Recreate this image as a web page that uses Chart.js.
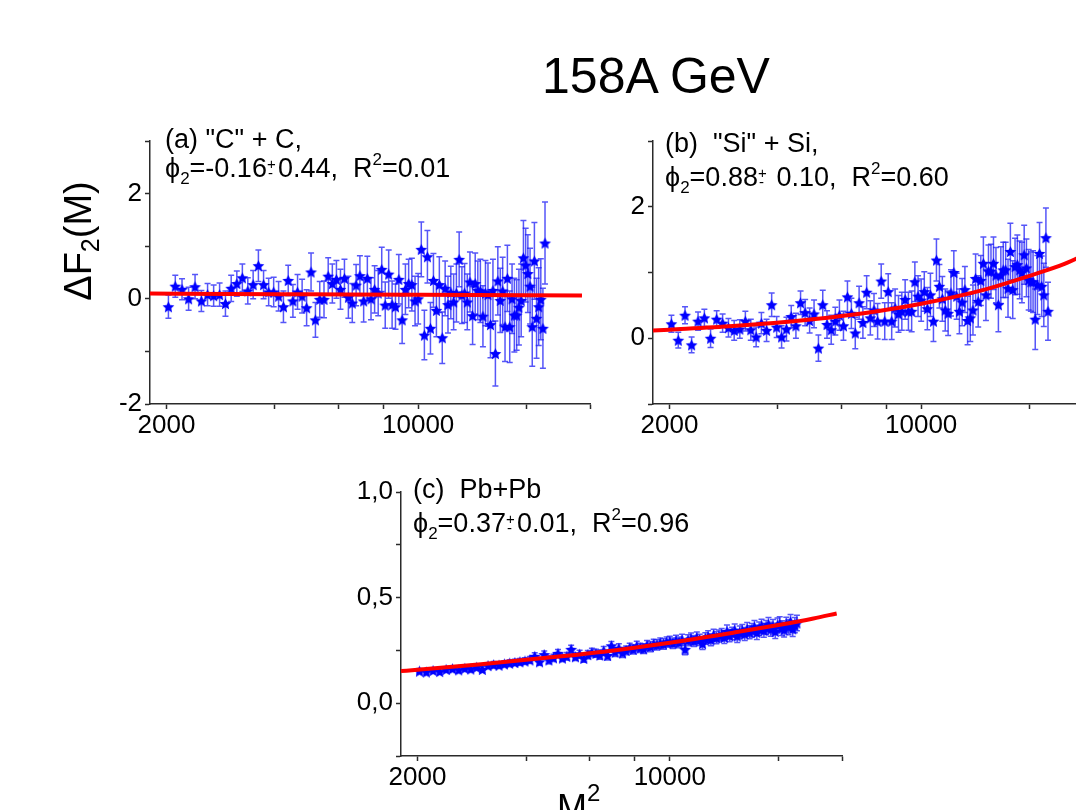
<!DOCTYPE html>
<html>
<head>
<meta charset="utf-8">
<title>158A GeV</title>
<script src="https://cdn.jsdelivr.net/npm/chart.js@4.4.1/dist/chart.umd.min.js"></script>
<style>
html,body{margin:0;padding:0;background:#fff;width:1076px;height:810px;overflow:hidden;position:relative;}
canvas.panel{position:absolute;left:0;top:0;}
.txt{position:absolute;font-family:"Liberation Sans",Arial,"DejaVu Sans",sans-serif;color:#000;white-space:pre;font-size:27px;line-height:27px;}
.sub{position:relative;top:7px;font-size:17px;}
.sup{position:relative;top:-12px;font-size:17px;}
.pm{display:inline-block;position:relative;width:11px;height:0;}
.pm .p{position:absolute;left:0;top:-21px;font-size:15px;line-height:15px;}
.pm .m{position:absolute;left:1px;top:-12px;font-size:15px;line-height:15px;}
</style>
</head>
<body>
<canvas id="panelA" class="panel" width="1076" height="810"></canvas>
<canvas id="panelB" class="panel" width="1200" height="810"></canvas>
<canvas id="panelC" class="panel" width="1076" height="810"></canvas>

<div class="txt" style="left:656px;top:51px;font-size:50px;line-height:50px;transform:translateX(-50%);">158A GeV</div>
<div class="txt" style="left:-20px;top:220px;width:200px;text-align:center;font-size:38px;line-height:38px;transform:rotate(-90deg);">ΔF<span style="position:relative;top:8px;font-size:25px;">2</span>(M)</div>
<div class="txt" style="left:557px;top:790px;font-size:36px;line-height:36px;">M<span style="position:relative;top:-19px;font-size:24px;">2</span></div>

<div class="txt" style="left:165px;top:126px;">(a) "C" + C,</div>
<div class="txt" style="left:165px;top:155px;">ϕ<span class="sub">2</span>=-0.16<span class="pm"><span class="p">+</span><span class="m">-</span></span>0.44,  R<span class="sup">2</span>=0.01</div>

<div class="txt" style="left:665px;top:130px;">(b)  "Si" + Si,</div>
<div class="txt" style="left:665px;top:164px;">ϕ<span class="sub">2</span>=0.88<span class="pm"><span class="p">+</span><span class="m">-</span></span> 0.10,  R<span class="sup">2</span>=0.60</div>

<div class="txt" style="left:413px;top:476px;">(c)  Pb+Pb</div>
<div class="txt" style="left:413px;top:510px;">ϕ<span class="sub">2</span>=0.37<span class="pm"><span class="p">+</span><span class="m">-</span></span>0.01,  R<span class="sup">2</span>=0.96</div>

<script>
// ---------------- data ----------------
const massSquared = [2025,2116,2209,2304,2401,2500,2601,2704,2809,2916,
  3025,3136,3249,3364,3481,3600,3721,3844,3969,4096,
  4225,4356,4489,4624,4761,4900,5041,5184,5329,5476,
  5625,5776,5929,6084,6241,6400,6561,6724,6889,7056,
  7225,7396,7569,7744,7921,8100,8281,8464,8649,8836,
  9025,9216,9409,9604,9801,10000,10201,10404,10609,10816,
  11025,11236,11449,11664,11881,12100,12321,12544,12769,12996,
  13225,13456,13689,13924,14161,14400,14641,14884,15129,15376,
  15625,15876,16129,16384,16641,16900,17161,17424,17689,17956,
  18225,18496,18769,19044,19321,19600,19881,20164,20449,20736,
  21025,21316,21609,21904,22201,22500];

// (a) "C" + C
const carbonValues = [-0.15,0.24,0.18,0.0,0.23,-0.04,0.08,0.06,0.08,-0.09,
  0.2,0.29,0.4,0.15,0.27,0.63,0.27,0.13,0.13,0.05,
  -0.15,0.35,-0.04,0.13,0.05,-0.17,0.51,-0.4,-0.01,-0.01,
  0.43,0.29,0.37,0.18,0.39,0.03,-0.08,0.26,0.44,-0.04,
  0.39,0.0,0.18,0.11,0.56,-0.12,0.47,-0.11,-0.15,0.37,
  -0.4,0.18,0.29,0.27,-0.04,0.0,0.94,-0.69,0.8,-0.56,
  0.35,-0.22,0.27,-0.74,0.2,-0.11,0.12,-0.06,0.11,0.75,
  0.07,0.11,-0.06,0.32,-0.32,0.29,0.16,0.15,-0.33,0.11,
  0.08,-0.49,0.16,-1.04,0.34,-0.03,0.15,-0.53,0.39,-0.53,
  0.0,-0.31,-0.31,-0.16,-0.03,0.78,0.64,0.48,0.24,-0.53,
  0.72,-0.37,-0.15,-0.01,-0.56,1.06];
const carbonErrors = [0.22,0.21,0.2,0.22,0.23,0.2,0.21,0.2,0.22,0.24,
  0.25,0.24,0.26,0.25,0.27,0.3,0.27,0.26,0.28,0.28,
  0.3,0.29,0.31,0.33,0.32,0.34,0.36,0.33,0.34,0.35,
  0.35,0.37,0.36,0.38,0.36,0.4,0.37,0.39,0.38,0.4,
  0.42,0.4,0.45,0.43,0.42,0.44,0.46,0.45,0.43,0.47,
  0.45,0.48,0.46,0.5,0.47,0.48,0.52,0.47,0.5,0.49,
  0.51,0.5,0.53,0.49,0.52,0.54,0.5,0.53,0.55,0.52,
  0.54,0.56,0.53,0.57,0.55,0.58,0.56,0.6,0.58,0.62,
  0.6,0.63,0.59,0.62,0.65,0.61,0.64,0.66,0.63,0.68,
  0.66,0.7,0.67,0.72,0.69,0.71,0.7,0.74,0.72,0.75,
  0.73,0.76,0.74,0.77,0.76,0.78];
const carbonFitX = [1800,3000,5000,10000,20000,28500];
const carbonFitY = [0.100,0.092,0.085,0.076,0.068,0.065];

// (b) "Si" + Si
const siliconValues = [0.22,-0.03,0.35,-0.1,0.26,0.31,0.0,0.29,0.23,0.16,
  0.12,0.14,0.26,0.13,0.02,0.23,0.12,0.51,0.17,0.02,
  0.14,0.33,0.19,0.54,0.39,0.27,0.37,-0.15,0.51,0.21,
  0.13,0.26,0.35,0.19,0.63,0.38,0.08,0.54,0.24,0.7,
  0.31,0.43,0.26,0.87,0.26,0.71,0.26,0.46,0.37,0.41,
  0.59,0.41,0.41,0.86,0.64,0.58,0.71,0.45,0.66,0.26,
  1.19,0.79,0.6,0.43,0.38,0.69,1.0,0.64,0.41,0.55,
  0.74,0.27,0.31,0.43,0.91,0.56,0.88,1.14,0.66,1.02,
  1.02,1.14,0.96,0.51,0.96,1.04,1.04,0.76,1.32,0.74,
  1.09,1.12,1.04,1.0,1.27,1.07,0.89,0.86,0.86,0.29,
  0.81,1.29,0.79,0.66,1.53,0.41];
const siliconErrors = [0.13,0.12,0.13,0.12,0.14,0.13,0.14,0.13,0.14,0.14,
  0.15,0.14,0.15,0.16,0.15,0.16,0.17,0.18,0.16,0.17,
  0.18,0.17,0.19,0.18,0.2,0.19,0.21,0.2,0.22,0.21,
  0.22,0.21,0.23,0.22,0.24,0.23,0.24,0.25,0.24,0.25,
  0.26,0.25,0.27,0.26,0.28,0.27,0.28,0.29,0.28,0.29,
  0.3,0.29,0.31,0.3,0.31,0.32,0.3,0.32,0.33,0.31,
  0.32,0.33,0.34,0.32,0.34,0.35,0.33,0.35,0.34,0.36,
  0.35,0.37,0.36,0.38,0.37,0.39,0.38,0.4,0.39,0.4,
  0.41,0.4,0.42,0.41,0.43,0.42,0.42,0.44,0.43,0.44,
  0.43,0.45,0.44,0.46,0.45,0.44,0.46,0.45,0.47,0.46,
  0.45,0.47,0.46,0.48,0.45,0.44];
const siliconFitX = [1800,2000,3000,5000,7000,10000,15000,20000,25000,30000];
const siliconFitY = [0.117,0.13,0.185,0.29,0.385,0.525,0.74,0.95,1.13,1.33];

// (c) Pb + Pb
const leadValues = [0.152,0.148,0.155,0.150,0.160,0.163,0.158,0.165,0.162,0.170,
  0.160,0.178,0.182,0.180,0.186,0.190,0.193,0.196,0.200,0.205,
  0.222,0.196,0.230,0.205,0.215,0.236,0.214,0.222,0.255,0.220,
  0.232,0.212,0.230,0.240,0.236,0.228,0.248,0.226,0.272,0.242,
  0.260,0.238,0.250,0.262,0.255,0.270,0.262,0.258,0.274,0.268,
  0.280,0.276,0.285,0.280,0.290,0.292,0.284,0.296,0.288,0.300,
  0.255,0.298,0.305,0.294,0.310,0.300,0.282,0.306,0.315,0.300,
  0.322,0.310,0.318,0.325,0.312,0.340,0.320,0.330,0.345,0.318,
  0.335,0.342,0.328,0.350,0.336,0.345,0.360,0.335,0.352,0.365,
  0.345,0.358,0.372,0.350,0.362,0.340,0.368,0.375,0.355,0.348,
  0.372,0.360,0.385,0.352,0.370,0.380];
const leadErrors = [0.012,0.013,0.012,0.013,0.012,0.013,0.014,0.013,0.014,0.013,
  0.014,0.014,0.015,0.014,0.015,0.016,0.015,0.016,0.015,0.016,
  0.017,0.016,0.017,0.018,0.017,0.018,0.017,0.018,0.019,0.018,
  0.019,0.018,0.019,0.02,0.019,0.02,0.02,0.021,0.02,0.021,
  0.021,0.022,0.021,0.022,0.022,0.023,0.022,0.023,0.023,0.024,
  0.023,0.024,0.024,0.025,0.024,0.025,0.025,0.026,0.025,0.026,
  0.026,0.026,0.027,0.026,0.027,0.027,0.028,0.027,0.028,0.028,
  0.028,0.029,0.028,0.029,0.029,0.03,0.029,0.03,0.03,0.031,
  0.03,0.031,0.031,0.032,0.031,0.032,0.032,0.033,0.032,0.033,
  0.033,0.033,0.034,0.033,0.034,0.034,0.035,0.034,0.035,0.035,
  0.035,0.036,0.035,0.036,0.036,0.037];
const leadFitX = [1800,2000,3000,5000,7000,10000,15000,20000,25000,29000];
const leadFitY = [0.152,0.158,0.184,0.222,0.250,0.286,0.334,0.370,0.401,0.425];

// axes
const xRange = [1800, 30000];
const xTickValues = [2000,4000,6000,8000,10000,20000,30000];
const xTickLabels = ['2000','','','','10000','',''];
const carbonYRange = [-2, 3];
const carbonYTicks = [-2,-1,0,1,2,3];
const carbonYLabels = ['-2','','0','','2',''];
const siliconYRange = [-1, 3];
const siliconYTicks = [-1,0,1,2,3];
const siliconYLabels = ['','0','','2',''];
const leadYRange = [-0.25, 1.0];
const leadYTicks = [-0.25,0,0.25,0.5,0.75,1.0];
const leadYLabels = ['','0,0','','0,5','','1,0'];

// ---------------- drawing ----------------
const FONT_FAMILY = '"Liberation Sans", Arial, sans-serif';
const AXIS_COLOR = '#2a2a2a';

function starImage(r, color) {
  const c = document.createElement('canvas');
  const s = Math.ceil(r * 2 + 2);
  c.width = s; c.height = s;
  const g = c.getContext('2d');
  g.translate(s / 2, s / 2 + r * 0.1);
  g.beginPath();
  for (let i = 0; i < 10; i++) {
    const rad = i % 2 ? r * 0.48 : r;
    const a = -Math.PI / 2 + i * Math.PI / 5;
    g.lineTo(rad * Math.cos(a), rad * Math.sin(a));
  }
  g.closePath();
  g.fillStyle = color;
  g.fill();
  return c;
}
const STAR = starImage(6.2, '#0000ff');

const errorBarPlugin = {
  id: 'errorBars',
  beforeDatasetsDraw(chart) {
    const ctx = chart.ctx, xs = chart.scales.x, ys = chart.scales.y;
    chart.data.datasets.forEach(ds => {
      if (!ds.errors) return;
      ctx.save();
      ctx.strokeStyle = 'rgba(30,30,245,0.75)';
      ctx.lineWidth = 1.5;
      ds.data.forEach((p, j) => {
        const e = ds.errors[j];
        const px = xs.getPixelForValue(p.x);
        const yTop = ys.getPixelForValue(p.y + e);
        const yBot = ys.getPixelForValue(p.y - e);
        ctx.beginPath();
        ctx.moveTo(px, yTop); ctx.lineTo(px, yBot);
        ctx.moveTo(px - 3, yTop); ctx.lineTo(px + 3, yTop);
        ctx.moveTo(px - 3, yBot); ctx.lineTo(px + 3, yBot);
        ctx.stroke();
      });
      ctx.restore();
    });
  }
};

function makePanel(canvasId, area, yRange, yTicks, yLabels, yVals, yErrs, fitX, fitY) {
  const canvas = document.getElementById(canvasId);
  const W = canvas.width, H = canvas.height;
  const YW = 60, XH = 50;
  const points = massSquared.map((x, i) => ({x: x, y: yVals[i]}));
  const fit = fitX.map((x, i) => ({x: x, y: fitY[i]}));
  return new Chart(canvas, {
    type: 'scatter',
    data: { datasets: [
      { type: 'line', data: fit, borderColor: '#ff0000', borderWidth: 4, pointRadius: 0,
        fill: false, cubicInterpolationMode: 'monotone', order: 0 },
      { type: 'scatter', data: points, errors: yErrs, pointStyle: STAR, pointRadius: 5, order: 1 }
    ]},
    options: {
      responsive: false, animation: false, events: [],
      layout: { padding: { left: area.left - YW, right: W - area.right, top: area.top, bottom: H - area.bottom - XH } },
      plugins: { legend: {display: false}, tooltip: {enabled: false}, title: {display: false} },
      scales: {
        x: {
          type: 'logarithmic', min: xRange[0], max: xRange[1],
          afterBuildTicks: s => { s.ticks = xTickValues.map(v => ({value: v})); },
          afterFit: s => { s.height = XH; },
          ticks: { autoSkip: false, maxRotation: 0, minRotation: 0, padding: 1, color: '#000',
                   font: {family: FONT_FAMILY, size: 26},
                   callback: v => { const i = xTickValues.indexOf(v); return i >= 0 ? xTickLabels[i] : ''; } },
          grid: { display: true, drawOnChartArea: false, drawTicks: true, tickLength: 5, tickColor: AXIS_COLOR, tickWidth: 1.5 },
          border: { display: true, color: AXIS_COLOR, width: 1.5 }
        },
        y: {
          type: 'linear', min: yRange[0], max: yRange[1],
          afterBuildTicks: s => { s.ticks = yTicks.map(v => ({value: v})); },
          afterFit: s => { s.width = YW; },
          ticks: { autoSkip: false, padding: 3, color: '#000',
                   font: {family: FONT_FAMILY, size: 26},
                   callback: v => { const i = yTicks.indexOf(v); return i >= 0 ? yLabels[i] : ''; } },
          grid: { display: true, drawOnChartArea: false, drawTicks: true, tickLength: 5, tickColor: AXIS_COLOR, tickWidth: 1.5 },
          border: { display: true, color: AXIS_COLOR, width: 1.5 }
        }
      }
    },
    plugins: [errorBarPlugin]
  });
}

makePanel('panelA', {left: 150, right: 590, top: 141, bottom: 404},
  carbonYRange, carbonYTicks, carbonYLabels, carbonValues, carbonErrors, carbonFitX, carbonFitY);
makePanel('panelB', {left: 653, right: 1093, top: 141, bottom: 404},
  siliconYRange, siliconYTicks, siliconYLabels, siliconValues, siliconErrors, siliconFitX, siliconFitY);
makePanel('panelC', {left: 401, right: 842, top: 492, bottom: 756},
  leadYRange, leadYTicks, leadYLabels, leadValues, leadErrors, leadFitX, leadFitY);
</script>
</body>
</html>
